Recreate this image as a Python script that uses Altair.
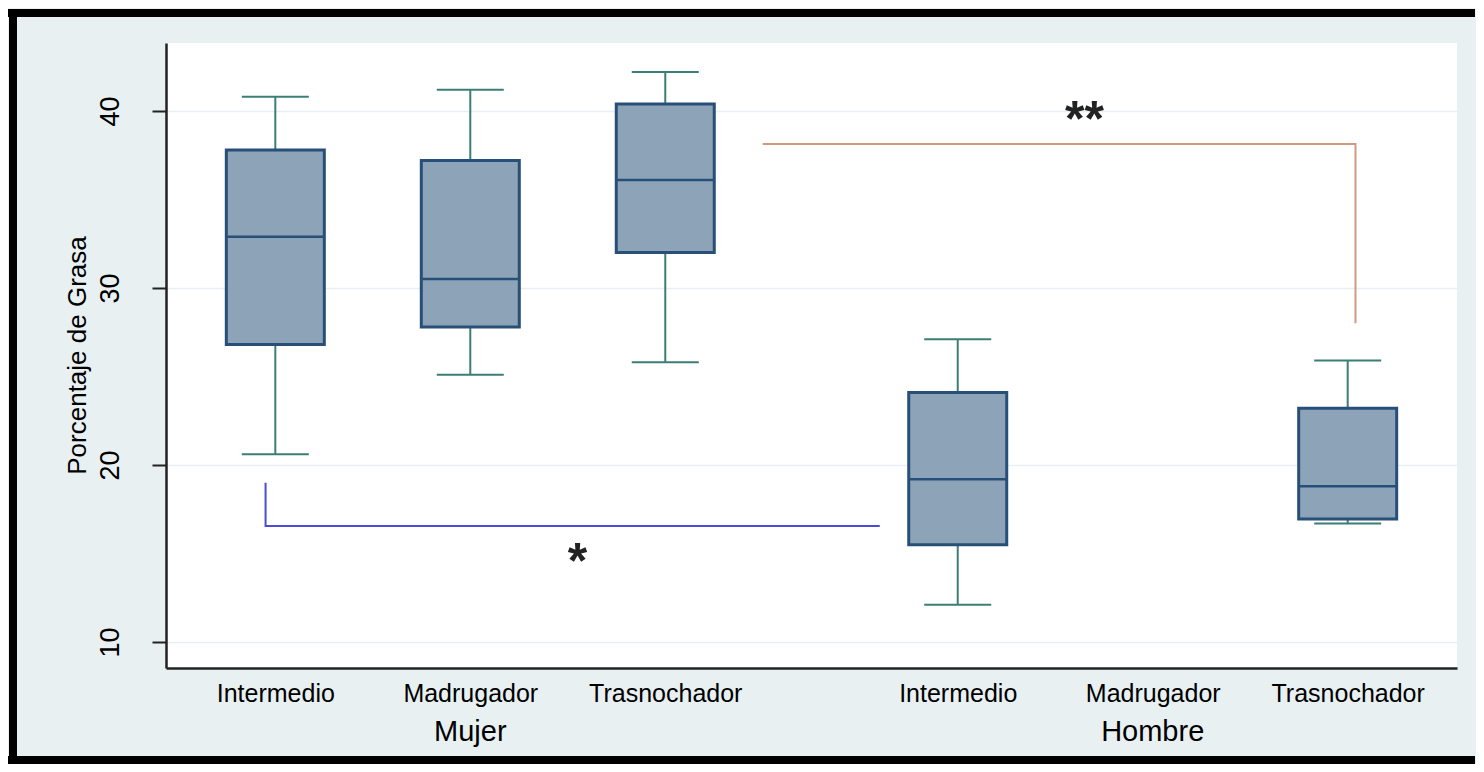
import altair as alt
import pandas as pd

# ---- data ----
groups = ["Mujer", "Mujer", "Mujer", "Hombre", "Hombre"]
cats = ["Intermedio", "Madrugador", "Trasnochador", "Intermedio", "Trasnochador"]
pos = [0, 1, 2, 3.5, 5.5]
lower = [20.6, 25.1, 25.8, 12.1, 16.7]
q1 = [26.8, 27.8, 32.0, 15.5, 16.95]
median = [32.9, 30.5, 36.1, 19.2, 18.8]
q3 = [37.8, 37.2, 40.4, 24.1, 23.2]
upper = [40.8, 41.2, 42.2, 27.1, 25.9]

tick_pos = [0, 1, 2, 3.5, 4.5, 5.5]
tick_names = ["Intermedio", "Madrugador", "Trasnochador", "Intermedio", "Madrugador", "Trasnochador"]
group_names = ["Mujer", "Hombre"]
group_pos = [1, 4.5]

# significance brackets
blue_x = [-0.05, -0.05, 3.1]
blue_y = [19.0, 16.55, 16.55]
orange_x = [2.5, 5.54, 5.54]
orange_y = [38.14, 38.14, 28.0]
stars = ["*", "**"]
star_x = [1.55, 4.15]
star_y = [14.9, 39.9]

df = pd.DataFrame(dict(group=groups, cat=cats, pos=pos, lower=lower, q1=q1,
                       median=median, q3=q3, upper=upper))
lines = pd.DataFrame(dict(x=blue_x + orange_x, y=blue_y + orange_y,
                          k=["a"] * 3 + ["b"] * 3, o=[0, 1, 2, 0, 1, 2]))
star_df = pd.DataFrame(dict(t=stars, x=star_x, y=star_y))
grp_df = pd.DataFrame(dict(g=group_names, x=group_pos))

W, H = 1291, 625
xs = alt.Scale(domain=[-0.535, 6.035], nice=False, zero=False)
ys = alt.Scale(domain=[8.53, 43.84], nice=False, zero=False)

expr = "''"
for p, n in zip(tick_pos, tick_names):
    expr = f"datum.value == {p} ? '{n}' : (" + expr + ")"

FONT = "Liberation Sans"
base = alt.Chart(df)
one = alt.Chart(df.head(1))

# outer black frame (top, left, bottom edges only, as in the cropped reference)
frame_top = one.mark_rule(color="black", strokeWidth=8).encode(
    x=alt.value(-158), x2=alt.value(1309), y=alt.value(-30))
frame_left = one.mark_rule(color="black", strokeWidth=8).encode(
    x=alt.value(-153), y=alt.value(-34), y2=alt.value(721))
frame_bot = one.mark_rule(color="black", strokeWidth=8).encode(
    x=alt.value(-158), x2=alt.value(1309), y=alt.value(717))

x_enc = alt.X("pos:Q", scale=xs, axis=alt.Axis(
    values=tick_pos, labelExpr=expr, ticks=False, grid=False, title=None,
    domainColor="#222", domainWidth=2.5, labelFont=FONT, labelFontSize=25,
    labelColor="black", labelPadding=13, labelBaseline="top", labelFlush=False,
    labelOverlap=False))
y_axis = alt.Axis(values=[10, 20, 30, 40], title="Porcentaje de Grasa",
                  labelAngle=270, labelAlign="center", labelBaseline="alphabetic",
                  labelPadding=34, tickSize=14, tickWidth=2, tickColor="#222",
                  domainColor="#222", domainWidth=2.5, gridColor="#E6EFF1", gridWidth=1.5,
                  labelFont=FONT, labelFontSize=27, labelColor="black",
                  titleFont=FONT, titleFontSize=26, titleFontWeight="normal",
                  titleColor="black", titleAngle=270, titleX=-89, titleY=312,
                  titleAlign="center", titleBaseline="middle")

whisk_lo = base.mark_rule(color="#3B7E76", strokeWidth=2).encode(
    x=x_enc, y=alt.Y("lower:Q", scale=ys, axis=y_axis), y2="q1:Q")
whisk_hi = base.mark_rule(color="#3B7E76", strokeWidth=2).encode(
    x="pos:Q", y="q3:Q", y2="upper:Q")
cap_lo = base.mark_tick(orient="horizontal", size=67, thickness=2, color="#3B7E76", opacity=1).encode(
    x="pos:Q", y="lower:Q")
cap_hi = base.mark_tick(orient="horizontal", size=67, thickness=2, color="#3B7E76", opacity=1).encode(
    x="pos:Q", y="upper:Q")
box = base.mark_bar(size=98, fill="#8DA3B8", stroke="#284F78", strokeWidth=3).encode(
    x="pos:Q", y="q1:Q", y2="q3:Q")
med = base.mark_tick(orient="horizontal", size=98, thickness=2.5, color="#284F78", opacity=1).encode(
    x="pos:Q", y="median:Q")

brackets = alt.Chart(lines).mark_line(strokeWidth=2).encode(
    x="x:Q", y="y:Q", detail="k:N", order="o:Q",
    color=alt.Color("k:N", scale=alt.Scale(domain=["a", "b"], range=["#4B4BD6", "#D09A82"]), legend=None))
star_txt = alt.Chart(star_df).mark_text(font=FONT, fontSize=50, fontWeight="bold", color="#222",
                                         baseline="middle", dy=8).encode(
    x="x:Q", y="y:Q", text="t:N")
grp_txt = alt.Chart(grp_df).mark_text(font=FONT, fontSize=29, color="black", baseline="middle").encode(
    x="x:Q", y=alt.value(689), text="g:N")

chart = alt.layer(frame_top, frame_left, frame_bot, whisk_lo, whisk_hi, cap_lo, cap_hi, box, med,
                  brackets, star_txt, grp_txt).properties(
    width=W, height=H,
    autosize=alt.AutoSizeParams(type="none"),
    padding={"left": 158, "top": 35, "right": 19, "bottom": 96},
    background="#E8F0F2",
).configure_view(fill="white", stroke=None)

chart.save("out.html", embed_options={"renderer": "svg", "actions": False})
